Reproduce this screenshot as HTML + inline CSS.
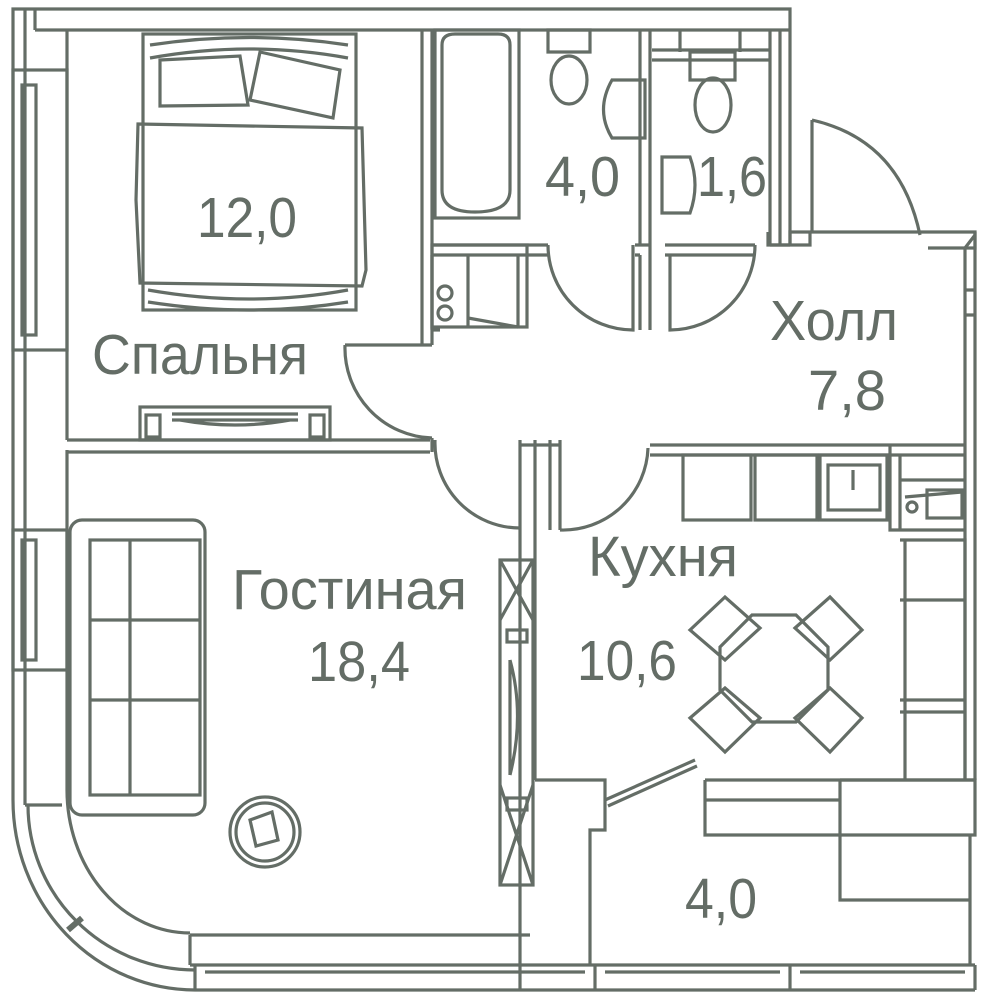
<!DOCTYPE html>
<html><head><meta charset="utf-8"><style>
html,body{margin:0;padding:0;background:#fff;}
svg{display:block}
text{font-family:"Liberation Sans",sans-serif;fill:#646d66;}
</style></head><body>
<svg width="1000" height="1000" viewBox="0 0 1000 1000" xmlns="http://www.w3.org/2000/svg">
<g fill="none" stroke="#646d66" stroke-width="3.2" stroke-linejoin="miter">
<!-- outer top wall -->
<path d="M13 800 V9 H790 V245"/>
<path d="M35 30 H790"/>
<path d="M35 9 V30"/>
<path d="M67 30 V440"/>
<path d="M25 9 V805"/>
<path d="M67 450 V790"/>
<path d="M25 805 H62"/>
<!-- windows left -->
<rect x="13" y="70" width="54" height="280"/>
<rect x="22" y="85" width="14" height="250"/>
<rect x="13" y="530" width="54" height="140"/>
<rect x="22" y="540" width="14" height="120"/>
<!-- curve bottom-left -->
<path d="M13 800 A182 190 0 0 0 195 990"/>
<path d="M28 805 A167 165 0 0 0 195 970"/>
<path d="M67 790 A123 143 0 0 0 190 933"/>
<path d="M68 930 L82 918" stroke-width="6"/>
<!-- bottom wall -->
<path d="M190 935 H530"/>
<path d="M190 965 H975 M195 990 H975"/>
<path d="M190 935 V965 M195 965 V990 M595 965 V990 M790 965 V990 M975 965 V990"/>
<path d="M205 972 H585 M605 972 H780 M800 972 H965"/>
<!-- bedroom walls -->
<path d="M422 30 V345 M432 30 V345"/>
<path d="M345 345 H432"/>
<path d="M67 440 H430 M67 452 H430"/>
<path d="M345 345 A90 90 0 0 0 432 438"/>
<path d="M432 438 V452"/>
<!-- bed -->
<rect x="143" y="34" width="213" height="276"/>
<path d="M150 45 Q250 30 348 45 M150 58 Q250 40 348 58"/>
<path d="M148 290 Q250 308 348 290 M148 302 Q250 318 348 302"/>
<path d="M160 60 L240 56 L248 105 L160 106 Z"/>
<path d="M260 52 L340 70 L333 118 L250 100 Z"/>
<path d="M138 124 L362 128 L366 270 L362 286 L140 283 L136 200 Z"/>
<!-- dresser bottom -->
<rect x="140" y="407" width="190" height="33"/>
<rect x="146" y="415" width="14" height="22"/>
<rect x="310" y="415" width="14" height="22"/>
<path d="M172 414 H298 M172 420 H298 M180 420 Q235 430 290 420"/>
<!-- bathroom -->
<path d="M432 245 H548 M635 245 H650 M665 245 H755 M770 245 H790"/>
<path d="M432 255 H548 M635 255 H640 M650 255 V245 M665 255 H755"/>
<path d="M640 30 V245 M650 30 V245"/>
<path d="M770 30 V245 M780 30 V245"/>
<rect x="435" y="30" width="84" height="188"/>
<path d="M442 45 Q442 34 455 34 H498 Q510 34 510 45 V190 Q510 212 475 212 Q442 212 442 190 Z"/>
<path d="M548 30 H590 V52 H548 Z"/><ellipse cx="569" cy="80" rx="18" ry="24"/>
<path d="M612 80 H645 V138 H612 Q595 110 612 80Z"/>
<path d="M690 52 H735 V80 H690 Z"/><ellipse cx="713" cy="105" rx="18" ry="27"/>
<path d="M680 30 V52 M740 30 V52 M652 50 H770 M652 60 H770"/>
<path d="M662 157 H690 Q700 185 690 213 H662 Z"/>
<!-- bathroom doors -->
<path d="M548 245 A85 85 0 0 0 633 330 V245"/>
<path d="M755 245 A85 85 0 0 1 670 330 V255"/>
<path d="M640 255 V330 M650 255 V330"/>
<!-- closet in hall -->
<rect x="432" y="245" width="95" height="82"/>
<path d="M432 255 V330 M468 255 V327 M518 255 V327 M468 318 L518 327"/>
<circle cx="445" cy="293" r="7"/><circle cx="445" cy="313" r="7"/>
<path d="M432 330 H440"/>
<!-- entrance door -->
<path d="M790 245 V232 H975 V248 H928"/>
<path d="M812 120 V232 M812 120 Q900 140 920 235"/>
<path d="M768 232 V245 H810 V232"/>
<path d="M965 248 V780 M975 232 V780 M965 248 L975 235"/>
<path d="M965 290 H975 M965 315 H975"/>
<!-- hall/kitchen wall -->
<path d="M650 445 H965 M650 455 H965"/>
<path d="M520 440 V990 M535 440 V780 M560 440 V530"/>
<path d="M550 440 V530 M520 445 H560"/>
<path d="M560 530 A85 85 0 0 0 648 448"/>
<path d="M435 440 A85 85 0 0 0 520 528"/>
<!-- kitchen units -->
<rect x="683" y="455" width="68" height="65"/>
<rect x="755" y="455" width="62" height="65"/>
<rect x="820" y="455" width="67" height="65"/>
<rect x="828" y="465" width="52" height="45"/>
<path d="M853 470 V490"/>
<path d="M890 445 V530 H965 M900 455 V530 M900 480 H965 M905 497 L962 492"/>
<rect x="927" y="490" width="35" height="28"/>
<circle cx="912" cy="507" r="5"/>
<path d="M900 540 H965 V780 M905 540 V780 M900 600 H965 M900 700 H965 M900 712 H965"/>
<!-- fridge/shelf column -->
<rect x="500" y="560" width="33" height="325"/>
<path d="M500 560 L533 620 M533 560 L500 620 M500 785 L533 885 M533 785 L500 885"/>
<rect x="507" y="630" width="20" height="12"/>
<rect x="507" y="798" width="20" height="12"/>
<path d="M510 660 V775 M510 660 Q525 715 510 775"/>
<!-- table -->
<path d="M752 615 H796 L828 647 V690 L796 722 H752 L720 690 V647 Z"/>
<path d="M690 630 L725 597 L760 628 L725 660 Z"/>
<path d="M795 628 L830 597 L862 630 L830 660 Z"/>
<path d="M690 718 L725 688 L760 718 L725 752 Z"/>
<path d="M795 718 L830 688 L862 718 L830 752 Z"/>
<!-- bottom partition -->
<path d="M535 780 H605 V830 H590 V965"/>
<path d="M605 800 L695 760 M608 806 L697 766"/>
<path d="M705 780 H975 M705 780 V835 H840 V780 M705 800 H840"/>
<path d="M840 835 V900 H970 M840 780 H975 V835 H840"/>
<path d="M970 835 V965"/>
<!-- sofa -->
<rect x="70" y="520" width="135" height="295" rx="12"/>
<rect x="90" y="540" width="110" height="255"/>
<path d="M90 620 H200 M90 700 H200 M130 540 V795"/>
<!-- TV circle -->
<circle cx="265" cy="832" r="35"/>
<circle cx="265" cy="832" r="29"/>
<path d="M250 820 L272 812 L278 840 L256 846 Z"/>
</g>
<g font-size="57">
<text x="197" y="237" textLength="100" lengthAdjust="spacingAndGlyphs">12,0</text>
<text x="92" y="374" textLength="216" lengthAdjust="spacingAndGlyphs">Спальня</text>
<text x="545" y="196" textLength="75" lengthAdjust="spacingAndGlyphs">4,0</text>
<text x="697" y="196" textLength="70" lengthAdjust="spacingAndGlyphs">1,6</text>
<text x="770" y="340" textLength="128" lengthAdjust="spacingAndGlyphs">Холл</text>
<text x="808" y="410" textLength="78" lengthAdjust="spacingAndGlyphs">7,8</text>
<text x="588" y="576" textLength="150" lengthAdjust="spacingAndGlyphs">Кухня</text>
<text x="577" y="680" textLength="100" lengthAdjust="spacingAndGlyphs">10,6</text>
<text x="232" y="609" textLength="235" lengthAdjust="spacingAndGlyphs">Гостиная</text>
<text x="308" y="681" textLength="102" lengthAdjust="spacingAndGlyphs">18,4</text>
<text x="685" y="918" textLength="72" lengthAdjust="spacingAndGlyphs">4,0</text>
</g>
</svg>
</body></html>
